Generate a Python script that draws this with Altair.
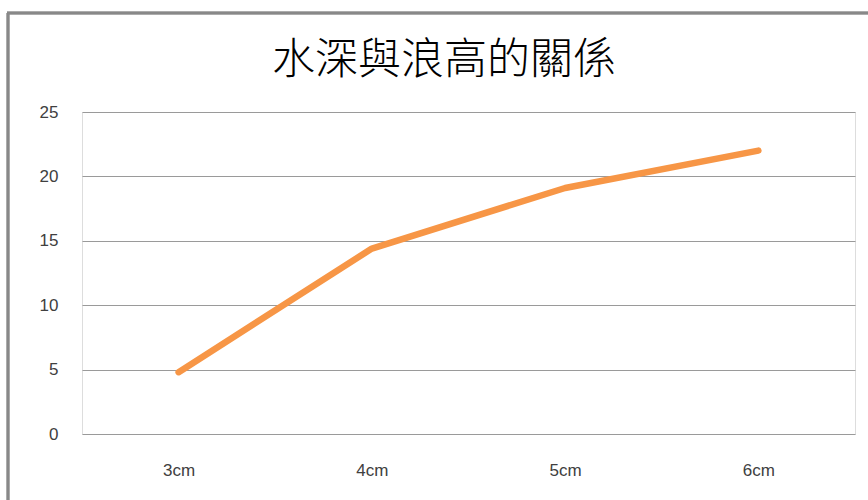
import altair as alt
import pandas as pd

# Water depth categories and the measured wave heights
depths = ["3cm", "4cm", "5cm", "6cm"]
wave_heights = [4.8, 14.4, 19.1, 22.0]
chart_title = "水深與浪高的關係"

df = pd.DataFrame({"depth": depths, "height": wave_heights})

PLOT_W, PLOT_H = 773, 322
LABEL_FONT = "Liberation Sans Narrow, Liberation Sans, sans-serif"

line = alt.Chart(df).mark_line(
    color="#F79646", strokeWidth=6.5, strokeCap="round", strokeJoin="round"
).encode(
    x=alt.X("depth:N", sort=depths, title=None,
            scale=alt.Scale(paddingInner=0, paddingOuter=0.5),
            axis=alt.Axis(labelAngle=0, domain=False, ticks=False, grid=False,
                          labelPadding=28, labelFontSize=17, labelColor="#404040",
                          labelFont=LABEL_FONT)),
    y=alt.Y("height:Q", title=None,
            scale=alt.Scale(domain=[0, 25], nice=False),
            axis=alt.Axis(values=[0, 5, 10, 15, 20, 25], domain=False, ticks=False,
                          gridColor="#9a9a9a", gridWidth=1.2, labelPadding=24,
                          labelFontSize=17, labelColor="#404040",
                          labelFont=LABEL_FONT)),
)

# Outer chart frame (left and top edges)
frame_left = alt.Chart(df).mark_rule(color="#888888", strokeWidth=2.5).encode(
    x=alt.value(-74), y=alt.value(-99), y2=alt.value(400)
)
frame_top = alt.Chart(df).mark_rule(color="#888888", strokeWidth=2.5).encode(
    x=alt.value(-75), x2=alt.value(800), y=alt.value(-99)
)

# Chart heading, placed inside the frame
heading = alt.Chart(pd.DataFrame({"t": [chart_title]})).mark_text(
    font="Noto Sans CJK TC", fontSize=43, fontWeight=300, color="#000000",
    align="center", baseline="middle"
).encode(x=alt.value(362), y=alt.value(-51), text="t:N")

chart = alt.layer(frame_left, frame_top, heading, line).properties(
    width=PLOT_W,
    height=PLOT_H,
    autosize=alt.AutoSizeParams(type="none"),
    padding={"left": 82, "top": 112, "right": 13, "bottom": 66},
).configure_view(stroke=None).configure(background="white")

chart.save("out.html", embed_options={"renderer": "svg", "actions": False})
